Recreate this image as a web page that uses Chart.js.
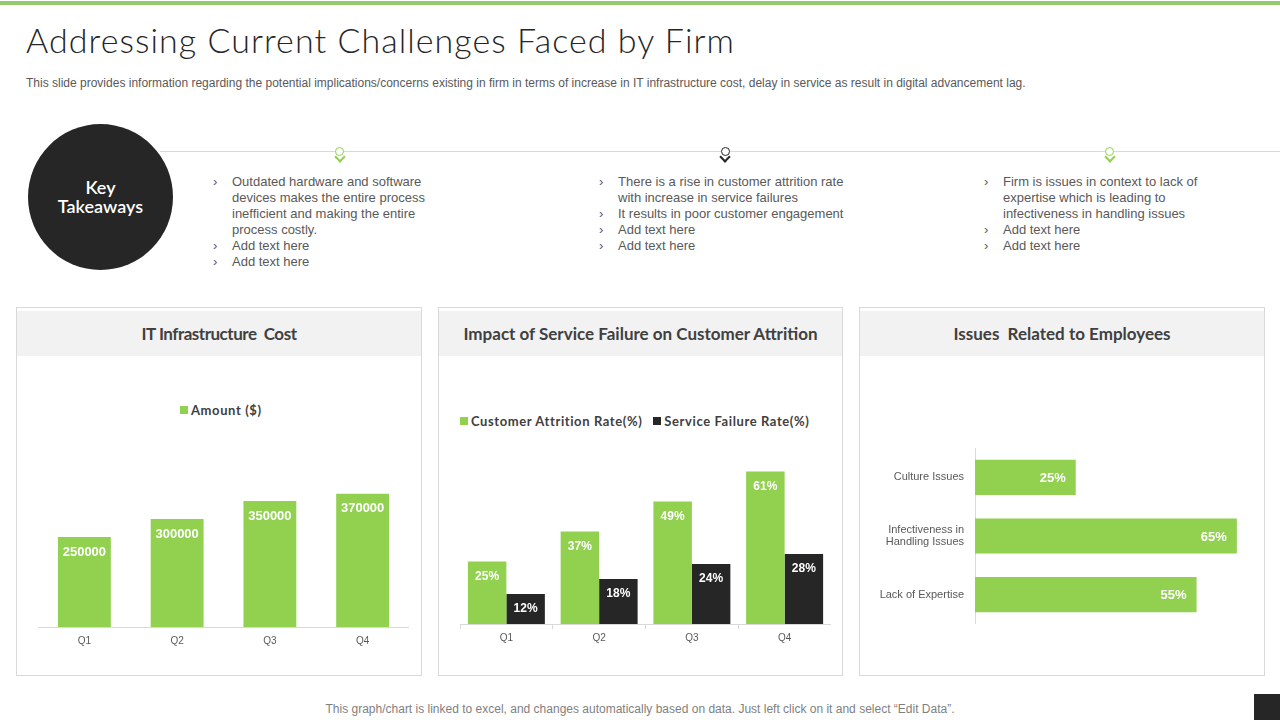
<!DOCTYPE html>
<html>
<head>
<meta charset="utf-8">
<script src="https://cdn.jsdelivr.net/npm/chart.js@4"></script>
<style>
  html, body { margin: 0; padding: 0; background: #fff; }
  body { width: 1280px; height: 720px; position: relative; overflow: hidden; font-family: "Liberation Sans", Arial, sans-serif; }
  .abs { position: absolute; }
  #topbar { left: 0; top: 1px; width: 1280px; height: 4px; background: #95c96b; }
  h1 { position: absolute; left: 26px; top: 19px; margin: 0; font: 300 34px Lato, sans-serif; letter-spacing: 1.05px; color: #262626; white-space: nowrap; }
  #sub { left: 26px; top: 76px; font-size: 12px; color: #595959; white-space: nowrap; }
  #rule { left: 160px; top: 151px; width: 1120px; height: 1px; background: #d9d9d9; }
  #circle { left: 28px; top: 124px; width: 145px; height: 146px; border-radius: 50%; background: #262626; color: #fff; text-align: center; font: 600 18px/19px Lato, sans-serif; }
  #circle span { display: block; margin-top: 54px; }
  .icon { width: 12px; height: 18px; }
  .icon i { position: absolute; left: 0.5px; top: 0; width: 7px; height: 7px; border: 1px solid #92d050; border-radius: 50%; background: #fff; }
  .icon b { position: absolute; left: 1.25px; top: 6.25px; width: 6px; height: 6px; border-right: 2.5px solid #92d050; border-bottom: 2.5px solid #92d050; transform: rotate(45deg); }
  .icon.dark i { border-color: #262626; }
  .icon.dark b { border-color: #262626; }
  ul { position: absolute; margin: 0; padding: 0; list-style: none; font-size: 13px; line-height: 16px; color: #595959; }
  li { position: relative; padding-left: 19px; white-space: nowrap; }
  li::before { content: "\203A"; position: absolute; left: 0; top: 0; }
  .card { border: 1px solid #d9d9d9; box-sizing: border-box; top: 307px; height: 369px; }
  .head { left: 0; right: 0; top: 3px; height: 45px; position: absolute; background: #f2f2f2; text-align: center; font: 700 17px/45px Lato, sans-serif; color: #404040; white-space: pre; }
  canvas { position: absolute; }
  .legend { position: absolute; display: flex; align-items: center; font: 700 13px/16px Lato, sans-serif; letter-spacing: 0.6px; color: #404040; white-space: nowrap; }
  .legend span { display: inline-block; width: 8px; height: 8px; margin-right: 3px; }
  .legend em { font-style: normal; margin-right: 11px; }
  #foot { left: 0; width: 1280px; top: 702px; text-align: center; font-size: 12px; color: #7f7f7f; white-space: nowrap; }
  #corner { left: 1254px; top: 694px; width: 26px; height: 26px; background: #262626; }
</style>
</head>
<body>
<div class="abs" id="topbar"></div>
<h1>Addressing Current Challenges Faced by Firm</h1>
<div class="abs" id="sub">This slide provides information regarding the potential implications/concerns existing in firm in terms of increase in IT infrastructure cost, delay in service as result in digital advancement lag.</div>
<div class="abs" id="rule"></div>
<div class="abs" id="circle"><span>Key<br>Takeaways</span></div>
<div class="abs icon" style="left:334.5px;top:147px"><i></i><b></b></div>
<div class="abs icon dark" style="left:720px;top:147px"><i></i><b></b></div>
<div class="abs icon" style="left:1104.5px;top:147px"><i></i><b></b></div>
<ul style="left:213px;top:174px">
  <li>Outdated hardware  and  software<br>devices  makes the entire  process<br>inefficient  and making  the entire<br>process costly.</li>
  <li>Add text here</li>
  <li>Add text here</li>
</ul>
<ul style="left:599px;top:174px">
  <li>There  is  a rise in customer attrition rate<br>with increase  in  service failures</li>
  <li>It results in poor customer engagement</li>
  <li>Add text here</li>
  <li>Add text here</li>
</ul>
<ul style="left:984px;top:174px">
  <li>Firm is issues in context to lack of<br>expertise which is leading to<br>infectiveness  in handling  issues</li>
  <li>Add text here</li>
  <li>Add text here</li>
</ul>

<div class="abs card" style="left:16px;width:406px"><div class="head" style="letter-spacing:-0.48px">IT Infrastructure  Cost</div></div>
<div class="abs card" style="left:438px;width:405px"><div class="head">Impact of Service Failure on Customer Attrition</div></div>
<div class="abs card" style="left:859px;width:406px"><div class="head">Issues  Related to Employees</div></div>

<div class="legend" id="costLegend" style="left:180px;top:402px"></div>
<div class="legend" id="attritionLegend" style="left:460px;top:413px"></div>

<canvas id="costChart" style="left:38px;top:429px;width:371px;height:228px"></canvas>
<canvas id="attritionChart" style="left:460px;top:439px;width:371px;height:215px"></canvas>
<canvas id="issuesChart" style="left:860px;top:448px;width:397px;height:176px"></canvas>

<div class="abs" id="foot">This graph/chart is linked to excel,  and changes automatically based on data. Just left click on it and select “Edit Data”.</div>
<div class="abs" id="corner"></div>

<script>
const GREEN = '#92d050';
const DARK = '#262626';

const quarters = ['Q1', 'Q2', 'Q3', 'Q4'];
const costAmount = [250000, 300000, 350000, 370000];
const attritionRate = [25, 37, 49, 61];
const failureRate = [12, 18, 24, 28];
const issueLabels = ['Culture Issues', ['Infectiveness in', 'Handling Issues'], 'Lack of Expertise'];
const issueValues = [25, 65, 55];

// value labels inside the bars, taken from the bar elements
const barLabels = {
  id: 'barLabels',
  afterDatasetsDraw(chart, args, opts) {
    const ctx = chart.ctx;
    ctx.save();
    ctx.font = opts.font;
    ctx.fillStyle = opts.color || '#fff';
    ctx.textBaseline = 'middle';
    chart.data.datasets.forEach((ds, i) => {
      chart.getDatasetMeta(i).data.forEach((bar, j) => {
        const text = ds.data[j] + opts.suffix;
        if (chart.options.indexAxis === 'y') {
          ctx.textAlign = 'right';
          ctx.fillText(text, bar.x - 10, bar.y + 1);
        } else {
          ctx.textAlign = 'center';
          ctx.fillText(text, bar.x, bar.y + 15);
        }
      });
    });
    ctx.restore();
  }
};

// html legend, the swatch gap in the picture is tighter than the built-in one
function fillLegend(id, chart) {
  const box = document.getElementById(id);
  chart.data.datasets.forEach(ds => {
    const swatch = document.createElement('span');
    swatch.style.background = ds.backgroundColor;
    const text = document.createElement('em');
    text.textContent = ds.label;
    box.append(swatch, text);
  });
}

const tickFont = { family: '"Liberation Sans", Arial, sans-serif', size: 10 };

// Amount chart
const costChart = new Chart(document.getElementById('costChart'), {
  type: 'bar',
  plugins: [barLabels],
  data: {
    labels: quarters,
    datasets: [{ label: 'Amount ($)', data: costAmount, backgroundColor: GREEN, categoryPercentage: 1, barPercentage: 0.57 }]
  },
  options: {
    responsive: false,
    animation: false,
    plugins: {
      legend: { display: false },
      tooltip: { enabled: false },
      barLabels: { font: '700 13px "Liberation Sans", Arial, sans-serif', suffix: '' }
    },
    scales: {
      x: {
        grid: { display: false },
        border: { color: '#d9d9d9' },
        ticks: { color: '#595959', font: tickFont, padding: 0 },
        afterFit(scale) { scale.height = 30; }
      },
      y: { display: false, min: 0, max: 550000 }
    }
  }
});
fillLegend('costLegend', costChart);

// Attrition chart
const attritionChart = new Chart(document.getElementById('attritionChart'), {
  type: 'bar',
  plugins: [barLabels],
  data: {
    labels: quarters,
    datasets: [
      { label: 'Customer Attrition Rate(%)', data: attritionRate, backgroundColor: GREEN, categoryPercentage: 0.83, barPercentage: 1 },
      { label: 'Service Failure Rate(%)', data: failureRate, backgroundColor: DARK, categoryPercentage: 0.83, barPercentage: 1 }
    ]
  },
  options: {
    responsive: false,
    animation: false,
    plugins: {
      legend: { display: false },
      tooltip: { enabled: false },
      barLabels: { font: '700 12px "Liberation Sans", Arial, sans-serif', suffix: '%' }
    },
    scales: {
      x: {
        grid: { drawOnChartArea: false, drawTicks: true, tickLength: 5, color: '#d9d9d9' },
        border: { color: '#d9d9d9' },
        ticks: { color: '#595959', font: tickFont, padding: 3 },
        afterFit(scale) { scale.height = 30; }
      },
      y: { display: false, min: 0, max: 74 }
    }
  }
});
fillLegend('attritionLegend', attritionChart);

// Issues chart
new Chart(document.getElementById('issuesChart'), {
  type: 'bar',
  plugins: [barLabels],
  data: {
    labels: issueLabels,
    datasets: [{ label: 'Issues', data: issueValues, backgroundColor: GREEN, categoryPercentage: 1, barPercentage: 0.6 }]
  },
  options: {
    indexAxis: 'y',
    responsive: false,
    animation: false,
    plugins: {
      legend: { display: false },
      tooltip: { enabled: false },
      barLabels: { font: '700 13px "Liberation Sans", Arial, sans-serif', suffix: '%' }
    },
    scales: {
      x: { display: false, min: 0, max: 70 },
      y: {
        grid: { display: false },
        border: { color: '#d9d9d9' },
        ticks: { color: '#595959', font: { family: tickFont.family, size: 11, lineHeight: 1.1 }, padding: 3, autoSkip: false },
        afterFit(scale) {
          scale.width = 115;
          scale.paddingTop = 0;
          scale.paddingBottom = 0;
        }
      }
    }
  }
});
</script>
</body>
</html>
